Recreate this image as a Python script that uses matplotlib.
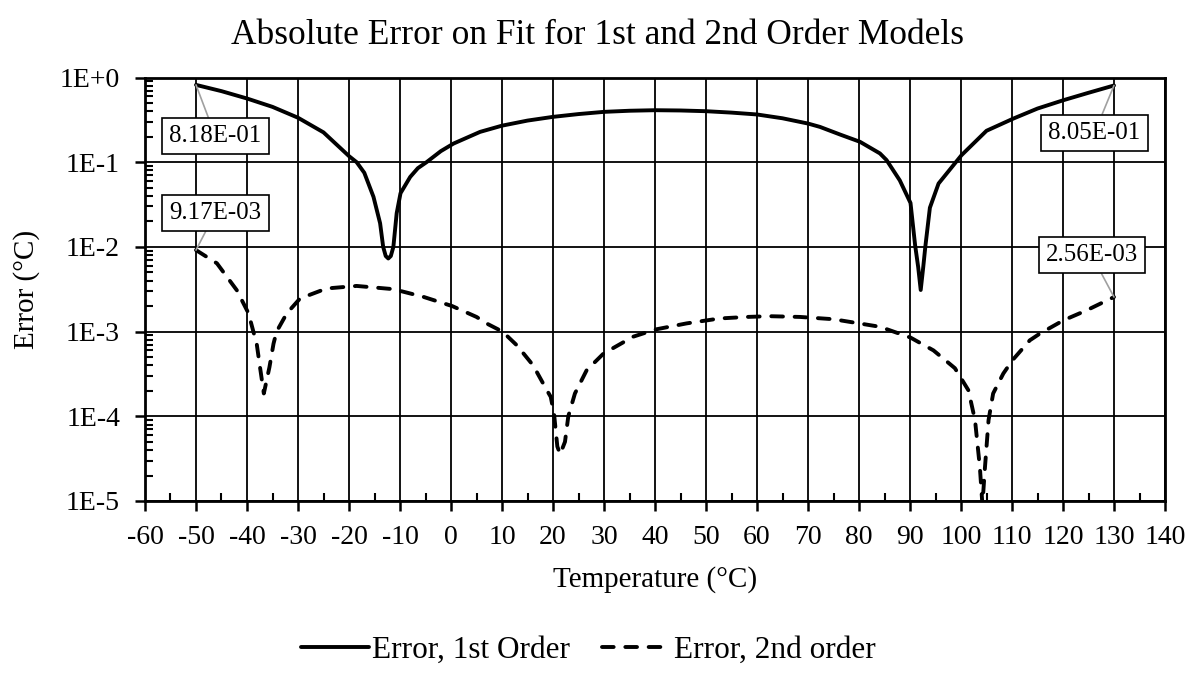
import numpy as np
import matplotlib.pyplot as plt
from matplotlib.ticker import FixedLocator, FuncFormatter, LogLocator, NullFormatter

plt.rcParams['font.family'] = ['Liberation Serif', 'DejaVu Serif']
plt.rcParams['axes.unicode_minus'] = False

# absolute fit error
temp_1st = [-50, -45, -40, -35, -30, -25, -20, -18.5, -17, -15.2, -13.9, -13.3, -12.8,
            -12.3, -11.8, -11.3, -10.65, -9.9, -8, -6.5, -4.8, -2, 0.5, 5.7, 10, 15,
            20, 25, 30, 35, 40, 45, 50, 55, 60, 65, 70, 72.35, 76.3, 80.2, 84.1, 85.4,
            88, 90.1, 91, 91.6, 92.1, 92.6, 93, 93.9, 95.6, 100.1, 105, 110.3, 115,
            120.1, 125, 130]
err_1st = [0.818, 0.69, 0.565, 0.45, 0.335, 0.225, 0.118, 0.1, 0.075, 0.039, 0.019,
           0.010, 0.0078, 0.0073, 0.0078, 0.010, 0.025, 0.043, 0.067, 0.085, 0.100,
           0.135, 0.166, 0.228, 0.27, 0.31, 0.343, 0.37, 0.393, 0.405, 0.411, 0.408,
           0.400, 0.385, 0.366, 0.33, 0.286, 0.261, 0.212, 0.174, 0.127, 0.106, 0.061,
           0.033, 0.0105, 0.0058, 0.0031, 0.0058, 0.0100, 0.029, 0.056, 0.121, 0.235,
           0.328, 0.43, 0.54, 0.66, 0.805]

temp_2nd = [-50, -45.9, -42, -39.7, -38.75, -38.1, -37.45, -36.7, -35.6, -34.8, -34.2,
            -32.2, -29.6, -24.4, -18.5, -11.3, -5.4, 0.25, 5, 7.3, 10.1, 12.9, 16.1,
            18.8, 19.55, 20.2, 20.85, 21.4, 22.35, 23, 24.3, 26.6, 29.9, 35.7, 40.1,
            46.2, 52.7, 58, 62.5, 68.4, 75, 84.1, 90.1, 94.6, 98.8, 101.45, 102.75,
            103.7, 104.2, 104.7, 105.4, 106.3, 108.3, 110.1, 113.5, 115.5, 120.1,
            124.6, 130]
err_2nd = [9.17e-3, 6.4e-3, 3.08e-3, 1.64e-3, 1.0e-3, 7.2e-4, 3.8e-4, 1.86e-4, 3.8e-4,
           7.2e-4, 1.0e-3, 1.64e-3, 2.46e-3, 3.23e-3, 3.46e-3, 3.17e-3, 2.57e-3, 2.0e-3,
           1.49e-3, 1.22e-3, 1.0e-3, 6.9e-4, 4.0e-4, 2.03e-4, 1.7e-4, 1.08e-4, 4.4e-5,
           3.57e-5, 5.0e-5, 1.0e-4, 1.86e-4, 3.5e-4, 5.5e-4, 8.7e-4, 1.06e-3, 1.25e-3,
           1.43e-3, 1.49e-3, 1.52e-3, 1.49e-3, 1.40e-3, 1.14e-3, 8.5e-4, 6.0e-4, 3.7e-4,
           2.03e-4, 9e-5, 2.5e-5, 9e-6, 2.5e-5, 9e-5, 1.86e-4, 3.2e-4, 4.6e-4, 7.9e-4,
           9.5e-4, 1.36e-3, 1.78e-3, 2.56e-3]

x_ticks = list(range(-60, 141, 10))
y_ticks = [1e-5, 1e-4, 1e-3, 1e-2, 1e-1, 1e0]

W, H = 1195, 673
fig = plt.figure(figsize=(W / 100, H / 100), dpi=100)
ax = fig.add_axes([145 / W, 1 - 501 / H, 1020 / W, 423.5 / H])

ax.plot(temp_1st, err_1st, color='black', lw=2.8, solid_capstyle='round',
        solid_joinstyle='round', label='Error, 1st Order', zorder=3)
ax.plot(temp_2nd, err_2nd, color='black', lw=2.8, linestyle=(0, (3.0, 3.0)),
        dash_capstyle='round', label='Error, 2nd order', zorder=3)

ax.set_yscale('log')
ax.set_xlim(-60, 140)
ax.set_ylim(1e-5, 1e0)

ax.xaxis.set_major_locator(FixedLocator(x_ticks))
ax.xaxis.set_minor_locator(FixedLocator(list(range(-55, 140, 10))))
ax.yaxis.set_major_locator(FixedLocator(y_ticks))
ax.yaxis.set_minor_locator(LogLocator(base=10, subs=np.arange(2, 10)))
ax.yaxis.set_major_formatter(FuncFormatter(lambda v, p: f"1E{int(round(np.log10(v))):+d}"))
ax.yaxis.set_minor_formatter(NullFormatter())

ax.tick_params(axis='both', which='major', direction='out', length=7, width=1.8,
               labelsize=20, color='black')
ax.tick_params(axis='both', which='minor', direction='in', length=6, width=1.5)
ax.tick_params(axis='x', which='major', pad=10.5)
ax.tick_params(axis='y', which='major', pad=11)

ax.grid(True, which='major', color='black', lw=1.3)
for s in ax.spines.values():
    s.set_linewidth(2)

ax.set_xlabel('Temperature (°C)', fontsize=21, labelpad=11)
ax.set_ylabel('Error (°C)', fontsize=21, labelpad=14)
fig.text(0.5, 1 - 36 / H, 'Absolute Error on Fit for 1st and 2nd Order Models',
         ha='center', va='center', fontsize=25.5)

# end-point value callouts
callouts = [
    (temp_1st[0], err_1st[0], (14, -37)),
    (temp_2nd[0], err_2nd[0], (14, 27)),
    (temp_1st[-1], err_1st[-1], (-14, -34)),
    (temp_2nd[-1], err_2nd[-1], (-16, 30)),
]
for x, y, off in callouts:
    ax.annotate(f"{y:.2E}", xy=(x, y), xytext=off, textcoords='offset points',
                ha='center', va='center', fontsize=18, zorder=5,
                bbox=dict(boxstyle='square,pad=0.28', fc='white', ec='black', lw=1.2),
                arrowprops=dict(arrowstyle='-', color='#a0a0a0', lw=1.2,
                                shrinkA=0, shrinkB=0))

fig.legend(loc='center', bbox_to_anchor=(0.492, 1 - 650 / H), ncol=2, frameon=False,
           fontsize=22.5, handlelength=2.2, handletextpad=0.1, columnspacing=1.0)

fig.savefig('out.png', dpi=100)
